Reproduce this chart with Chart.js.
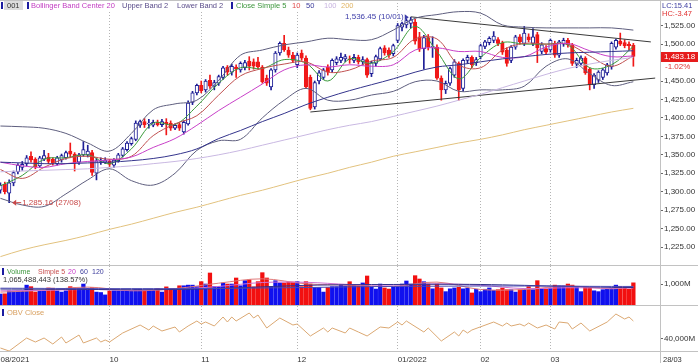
<!DOCTYPE html>
<html>
<head>
<meta charset="utf-8">
<script src="https://cdn.jsdelivr.net/npm/chart.js@4.4.1/dist/chart.umd.min.js"></script>
<style>
html,body{margin:0;padding:0;background:#fff;}
#wrap{position:relative;width:698px;height:363px;overflow:hidden;background:#fff;font-family:"Liberation Sans",Arial,sans-serif;}
#wrap canvas{position:absolute;left:0;}
.t{position:absolute;font-size:7.5px;line-height:9px;white-space:nowrap;}
.s{font-size:7px;}
.mk{position:absolute;width:2px;height:7px;background:#1c1ca0;}
</style>
</head>
<body>
<div id="wrap">
 <canvas id="cMain" width="698" height="266" style="top:0;width:698px;height:266px"></canvas>
 <canvas id="cVol" width="698" height="40" style="top:266px;width:698px;height:40px"></canvas>
 <canvas id="cObv" width="698" height="57" style="top:306px;width:698px;height:57px"></canvas>

 <div style="position:absolute;left:0;top:1px;width:352px;height:10px;background:#fff"></div>
 <div class="mk" style="left:1px;top:2px"></div>
 <div class="t" style="left:4px;top:1px;padding:0 3px;background:#dcdcdc;color:#333">001</div>
 <div class="mk" style="left:27px;top:2px"></div>
 <div class="t" style="left:31px;top:1px;color:#c23cc2">Bollinger Band Center 20</div>
 <div class="t" style="left:122px;top:1px;color:#5a4c8a">Upper Band 2</div>
 <div class="t" style="left:177px;top:1px;color:#5a4c8a">Lower Band 2</div>
 <div class="mk" style="left:231px;top:2px"></div>
 <div class="t" style="left:236px;top:1px;color:#3c963c">Close Simple 5</div>
 <div class="t" style="left:292px;top:1px;color:#e04848">10</div>
 <div class="t" style="left:306px;top:1px;color:#3c3c9c">50</div>
 <div class="t" style="left:324px;top:1px;color:#c8b4e0">100</div>
 <div class="t" style="left:341px;top:1px;color:#e0b464">200</div>

 <div class="t" style="left:662px;top:1px;color:#3c3ca0">LC:15.41</div>
 <div class="t" style="left:662px;top:9px;color:#e03030">HC:-3.47</div>

 <div class="mk" style="left:2px;top:268px"></div>
 <div class="t s" style="left:7px;top:267px;color:#3c963c">Volume</div>
 <div class="t s" style="left:38px;top:267px;color:#c85050">Simple 5</div>
 <div class="t s" style="left:68px;top:267px;color:#c83cc8">20</div>
 <div class="t s" style="left:80px;top:267px;color:#3c3c9c">60</div>
 <div class="t s" style="left:92px;top:267px;color:#3c3c9c">120</div>
 <div class="t" style="left:3px;top:275px;color:#333">1,065,488,443 (138.57%)</div>

 <div class="mk" style="left:2px;top:309px"></div>
 <div class="t" style="left:7px;top:308px;color:#d8a060">OBV Close</div>
 <div class="t" style="left:663px;top:355px;color:#333">28/03</div>
</div>
<script>
// ---------------- data ----------------
const openP=[1302,1310,1298,1312,1327,1333,1338,1348,1344,1335,
 1344,1347,1344,1338,1343,1346,1355,1351,1340,1350,
 1350,1353,1325,1341,1340,1341,1336,1342,1349,1357,
 1365,1371,1390,1395,1392,1390,1394,1391,1394,1393,
 1386,1391,1381,1392,1421,1434,1444,1438,1451,1443,
 1447,1455,1469,1462,1469,1465,1468,1477,1476,1476,
 1469,1454,1442,1465,1488,1501,1492,1485,1472,1488,
 1481,1455,1415,1450,1455,1469,1465,1475,1478,1480,
 1480,1478,1482,1476,1479,1460,1474,1480,1495,1492,
 1487,1505,1523,1526,1528,1530,1510,1494,1509,1496,
 1496,1454,1438,1447,1458,1474,1440,1478,1482,1475,
 1483,1497,1502,1505,1506,1501,1492,1478,1496,1510,
 1501,1510,1501,1513,1490,1494,1492,1501,1485,1500,
 1505,1499,1473,1474,1481,1466,1445,1451,1455,1461,
 1469,1496,1504,1502,1500,1498.5];
const highP=[1312,1313,1316,1328,1338,1341,1349,1354,1346,1348,
 1356,1352,1346,1348,1351,1355,1366,1353,1352,1368,
 1363,1356,1345,1346,1346,1344,1345,1352,1360,1368,
 1374,1396,1397,1399,1398,1397,1397,1398,1399,1396,
 1392,1393,1396,1423,1436,1446,1450,1452,1458,1451,
 1458,1470,1471,1473,1472,1476,1478,1483,1480,1482,
 1471,1458,1467,1490,1503,1512,1496,1489,1488,1492,
 1484,1458,1450,1464,1467,1472,1480,1483,1488,1486,
 1484,1486,1485,1483,1481,1477,1485,1496,1498,1495,
 1500,1528,1530,1534,1536.45,1534,1516,1512,1513,1510,
 1499,1457,1450,1469,1479,1476,1480,1485,1484,1482,
 1500,1505,1510,1517,1509,1504,1495,1498,1512,1513,
 1524,1514,1521,1516,1502,1498,1507,1504,1505,1508,
 1508,1501,1481,1484,1483,1468,1460,1464,1467,1474,
 1503,1507,1515,1506,1503,1501];
const lowP=[1298,1297,1285.16,1308,1324,1329,1335,1340,1331,1333,
 1342,1338,1336,1336,1340,1344,1346,1328,1337,1348,
 1347,1322,1316,1337,1338,1334,1333,1340,1347,1355,
 1363,1369,1387,1387,1386,1388,1389,1388,1377,1383,
 1384,1383,1378,1390,1418,1431,1434,1435,1440,1438,
 1444,1452,1458,1458,1455,1462,1465,1465,1466,1467,
 1447,1444,1438,1462,1485,1490,1482,1475,1468,1478,
 1440,1411,1412,1446,1452,1458,1462,1472,1475,1476,
 1474,1475,1473,1472,1455,1456,1470,1478,1485,1482,
 1484,1502,1518,1522,1522,1500,1490,1466,1492,1482,
 1452,1424,1433,1444,1455,1424,1436,1474,1468,1471,
 1480,1494,1499,1502,1498,1486,1470,1475,1493,1500,
 1498,1503,1498,1475,1487,1486,1489,1482,1482,1497,
 1496,1471,1468,1471,1459,1438,1440,1448,1452,1458,
 1466,1493,1498,1495,1492,1470];
const closeP=[1309,1300,1312,1326,1336,1337,1346,1343,1334,1346,
 1349,1341,1339,1346,1349,1353,1351,1339,1350,1357,
 1355,1326,1342,1343,1343,1337,1343,1350,1358,1366,
 1372,1393,1395,1391,1393,1394,1391,1395,1392,1386,
 1390,1386,1394,1420,1434,1444,1437,1450,1443,1448,
 1456,1468,1462,1470,1466,1474,1475,1470,1470,1469,
 1449,1447,1465,1488,1501,1492,1485,1478,1485,1481,
 1442,1413,1448,1461,1465,1462,1478,1480,1482,1483,
 1479,1482,1476,1479,1458,1475,1483,1494,1488,1485,
 1498,1525,1528,1532,1533,1504,1493,1509,1496,1497,
 1454,1438,1447,1467,1476,1438,1478,1482,1472,1479,
 1498,1503,1508,1511,1501,1489,1474,1496,1510,1503,
 1515,1506,1510,1495,1499,1489,1505,1485,1503,1505,
 1499,1474,1478,1481,1461,1445,1458,1462,1465,1472,
 1501,1505,1500,1498,1498,1483.18];
// volume, millions of shares
const volume=[550,560,700,690,710,700,960,890,640,700,
 700,830,820,700,640,700,890,840,820,1010,
 820,850,640,620,510,690,700,700,690,700,
 710,760,770,720,730,720,800,640,880,790,
 800,930,930,960,960,890,1120,1010,1518,900,
 890,1057,1010,1010,1288,930,1165,1210,880,1120,
 1533,1288,880,1165,1060,1060,1100,1100,1120,890,
 1120,1010,850,850,640,850,890,890,960,920,
 1118,960,920,1060,1380,890,780,1010,830,780,
 890,890,1010,1150,1010,1395,1242,1118,1010,790,
 1010,830,660,790,830,860,790,830,600,770,
 660,770,830,720,750,830,750,750,640,750,
 780,890,750,1165,780,780,830,960,930,930,
 1010,960,890,660,890,860,700,660,750,780,
 830,960,890,830,780,1065.49];

// indicator lines, sampled every 5 sessions
const maIdx=[0,5,10,15,20,25,30,35,40,45,50,55,60,65,70,75,80,85,90,95,100,105,110,115,120,125,130,135,140,145];
const sma5=[1308,1322,1344,1346,1350,1338,1358,1393,1391,1416,1447,1468,1467,1479,1474,1450,1480,1474,1490,1524,1490,1453,1482,1502,1500,1500,1499,1468,1472,1497];
const sma10=[1330,1318,1333,1345,1348,1344,1348,1376,1392,1403,1431,1457,1467,1473,1476,1462,1465,1477,1482,1507,1507,1472,1468,1492,1501,1500,1500,1484,1470,1484];
const bbCenter=[1340,1335,1333,1338,1341,1343,1347,1360,1372,1390,1410,1428,1446,1465,1472,1469,1472,1470,1472,1492,1495,1490,1490,1482,1483,1496,1501,1491,1483,1484];
const bbUpper=[1389,1388,1386,1379,1366,1355,1379,1411,1419,1424,1451,1485,1492,1499,1503,1508,1506,1506,1519,1535,1540,1544,1542,1526,1523,1522,1522,1522,1522,1519];
const bbLower=[1291,1282,1280,1297,1316,1331,1315,1309,1325,1356,1369,1371,1400,1424,1440,1424,1424,1431,1436,1449,1450,1436,1438,1438,1443,1470,1480,1460,1444,1449];
const sma50=[1340,1339,1338,1338,1339,1340,1342,1345,1350,1358,1372,1383,1395,1406,1418,1428,1437,1445,1453,1462,1469,1472,1476,1480,1483,1486,1488,1489,1490,1491];
const sma100=[1327,1328,1329,1330,1331,1333,1335,1338,1341,1345,1350,1356,1363,1370,1377,1384,1390,1395,1402,1409,1416,1424,1432,1441,1450,1459,1467,1473,1478,1482];
const sma200=[1212,1221,1228,1234,1241,1249,1256,1264,1272,1279,1287,1295,1302,1310,1318,1325,1333,1340,1348,1354,1360,1366,1371,1377,1384,1390,1396,1402,1408,1413];

// trend lines (session index, price)
const trendUpIdx=[94,149], trendUpVal=[1537,1503];
const trendLowIdx=[71,150], trendLowVal=[1408,1454];

// volume moving averages (millions), sampled every 10 sessions
const volMaIdx=[0,10,20,30,40,50,60,70,80,90,100,110,120,130,140,145];
const volMa5=[640,720,870,700,800,1050,1250,1020,960,900,1100,760,760,920,790,900];
const volMa20=[700,720,760,730,770,900,1080,1090,990,960,1020,950,800,840,820,830];
const volMa60=[780,770,760,750,760,800,880,950,980,990,1000,990,950,900,860,850];
const volMa120=[820,810,800,800,800,810,830,850,880,900,910,920,920,910,900,900];

// OBV (millions), turning points
const obvIdx=[0,2,6,8,10,12,14,15,18,19,22,23,24,25,28,32,34,35,37,40,41,43,45,46,47,49,51,52,53,54,57,58,59,61,64,67,68,71,74,75,76,79,80,82,84,87,89,91,92,93,97,98,101,103,104,105,106,107,108,113,115,116,117,119,120,121,123,125,127,128,130,131,133,135,139,141,143,144,145];
const obvVal=[37090,36190,40090,38890,40090,38290,40390,38590,40990,38590,40090,38890,39490,38890,41590,43990,42490,43690,42190,43390,41890,43690,45190,44290,44890,43690,46390,44890,46390,45190,47590,46090,46990,43090,46090,43990,44290,40690,43090,41890,43090,41590,43090,41890,40690,43390,43090,44890,43990,45190,41890,43090,39190,40990,41890,40690,42490,41590,42490,44890,43690,44590,43690,44290,43690,44590,43090,43990,42790,44890,44590,42790,44590,42190,44890,47290,45790,46390,45190];

// axis ticks / labels
const monthTickIdx=[0,25,46,68,91,110,126];
const monthTickLabels=['08/2021','10','11','12','01/2022','02','03'];
const priceTicks=[1225,1250,1275,1300,1325,1350,1375,1400,1425,1450,1500,1525];
const volTicks=[1000], obvTicks=[40000];
const peakDate='10/01', lowDate='27/08', changePct='-1.02%';

// ---------------- helpers ----------------
const FONT="'Liberation Sans', Arial, sans-serif";
const pts=(idx,vals)=>idx.map((x,k)=>({x:x,y:vals[k]}));
const fmt2=v=>v.toLocaleString('en-US',{minimumFractionDigits:2,maximumFractionDigits:2});
const fmtM=v=>v.toLocaleString('en-US')+'M';
const isUp=i=>closeP[i]>=openP[i];
const UP='#1e1e96', DN='#f01818';
const XMIN=-0.1, XMAX=151.1;

function xAxis(showLabels){
  return {type:'linear',min:XMIN,max:XMAX,bounds:'data',offset:false,
    afterBuildTicks(s){ s.ticks=monthTickIdx.map(v=>({value:v})); },
    afterFit(s){ s.height=showLabels?11:0; s.paddingLeft=0; s.paddingRight=0; },
    grid:{display:true,offset:false,drawOnChartArea:true,drawTicks:false,lineWidth:1,
      color:c=>(c.tick&&c.tick.value===0)?'rgba(0,0,0,0)':'#b4b4b4'},
    border:{display:false,dash:[1,2]},
    ticks:{display:showLabels,autoSkip:false,maxRotation:0,align:'start',padding:3,color:'#333',
      font:{family:FONT,size:8},callback:(v,i)=>monthTickLabels[i]}
  };
}
function yAxis(min,max,ticks,fmt){
  return {position:'right',min:min,max:max,bounds:'data',
    afterBuildTicks(s){ s.ticks=ticks.map(v=>({value:v})); },
    afterFit(s){ s.width=38; s.paddingTop=0; s.paddingBottom=0; },
    grid:{drawOnChartArea:false,drawTicks:true,tickLength:3,tickColor:'#666',lineWidth:1},
    border:{display:false},
    ticks:{autoSkip:false,padding:1,color:'#333',font:{family:FONT,size:8},callback:v=>fmt(v)}
  };
}
function frame(opt){
  return {id:'frame',afterDraw(chart){
    const {ctx,chartArea:a,width,height}=chart;
    ctx.save(); ctx.strokeStyle='#c2c2c2'; ctx.lineWidth=1; ctx.beginPath();
    if(opt.top){ ctx.moveTo(0,0.5); ctx.lineTo(width,0.5); }
    ctx.moveTo(0,a.bottom-0.5); ctx.lineTo(width,a.bottom-0.5);
    const xr=Math.round(a.right)+0.5;
    ctx.moveTo(xr,0); ctx.lineTo(xr,opt.full?height:a.bottom);
    ctx.stroke(); ctx.restore();
  }};
}
function line(data,color,order,tension){
  return {type:'line',data:data,borderColor:color,borderWidth:1,pointRadius:0,fill:false,
    tension:tension===undefined?0.35:tension,order:order};
}
const common={responsive:false,animation:false,events:[],layout:{padding:0},
  plugins:{legend:{display:false},tooltip:{enabled:false}}};

// ---------------- main price panel ----------------
const annot={id:'annot',afterDraw(chart){
  const {ctx,scales:{x,y}}=chart;
  ctx.save();
  ctx.font='8px '+FONT; ctx.textBaseline='middle';
  let pi=0; highP.forEach((h,i)=>{ if(h>highP[pi]) pi=i; });
  const px=x.getPixelForValue(pi), py=y.getPixelForValue(highP[pi]);
  ctx.fillStyle='#3c3ca8'; ctx.textAlign='right';
  ctx.fillText(fmt2(highP[pi])+' ('+peakDate+')',px-7,py);
  ctx.beginPath(); ctx.moveTo(px-2,py); ctx.lineTo(px-6,py-3); ctx.lineTo(px-6,py+3); ctx.closePath(); ctx.fill();
  let li=0; lowP.forEach((l,i)=>{ if(l<lowP[li]) li=i; });
  const lx=x.getPixelForValue(li), ly=y.getPixelForValue(lowP[li]);
  ctx.fillStyle='#c84848'; ctx.textAlign='left';
  ctx.fillText(fmt2(lowP[li])+' ('+lowDate+')',lx+13,ly);
  ctx.beginPath(); ctx.moveTo(lx+3,ly); ctx.lineTo(lx+7,ly-3); ctx.lineTo(lx+7,ly+3); ctx.closePath(); ctx.fill();
  ctx.fillRect(lx+7,ly-0.5,5,1);
  const last=closeP[closeP.length-1], cy=Math.round(y.getPixelForValue(last));
  ctx.fillStyle='#e61c1c'; ctx.fillRect(661,cy-5,37,10);
  ctx.fillStyle='#fff'; ctx.fillText(fmt2(last),664,cy);
  ctx.fillStyle='#e03030'; ctx.fillText(changePct,665,cy+10);
  ctx.restore();
}};

new Chart(document.getElementById('cMain'),{
  type:'bar',
  data:{datasets:[
    line(pts(maIdx,sma200),'#e2c27e',0),
    line(pts(maIdx,sma100),'#c9b8e2',0),
    line(pts(maIdx,sma50),'#34348c',0),
    line(pts(maIdx,bbUpper),'#5e5e7e',0),
    line(pts(maIdx,bbLower),'#5e5e7e',0),
    line(pts(maIdx,bbCenter),'#c840c8',0),
    line(pts(maIdx,sma10),'#c05050',0),
    line(pts(maIdx,sma5),'#3a9a3a',0),
    line(pts(trendUpIdx,trendUpVal),'#3a3a3a',0,0),
    line(pts(trendLowIdx,trendLowVal),'#3a3a3a',0,0),
    {type:'bar',data:highP.map((h,i)=>({x:i,y:[lowP[i],h]})),
      backgroundColor:c=>isUp(c.dataIndex)?UP:DN,borderWidth:0,barThickness:1,grouped:false,order:3},
    {type:'bar',data:openP.map((o,i)=>({x:i,y:[o,closeP[i]]})),
      backgroundColor:c=>isUp(c.dataIndex)?'#ffffff':DN,
      borderColor:c=>isUp(c.dataIndex)?UP:DN,borderWidth:1,borderSkipped:false,
      barThickness:3.5,grouped:false,order:2}
  ]},
  options:Object.assign({},common,{
    scales:{x:xAxis(false),y:yAxis(1199.3,1559.8,priceTicks,fmt2)}
  }),
  plugins:[frame({top:true}),annot]
});

// ---------------- volume panel ----------------
new Chart(document.getElementById('cVol'),{
  type:'bar',
  data:{datasets:[
    line(pts(volMaIdx,volMa120),'#4a4ab4',0),
    line(pts(volMaIdx,volMa60),'#30308a',0),
    line(pts(volMaIdx,volMa20),'#d070d0',0),
    line(pts(volMaIdx,volMa5),'#e07a7a',0),
    {type:'bar',data:volume.map((v,i)=>({x:i,y:v})),
      backgroundColor:c=>isUp(c.dataIndex)?'#1010ee':'#f21010',borderWidth:0,
      barThickness:3.6,grouped:false,order:4}
  ]},
  options:Object.assign({},common,{
    scales:{x:xAxis(false),y:yAxis(0,1840,volTicks,fmtM)}
  }),
  plugins:[frame({})]
});

// ---------------- OBV panel ----------------
new Chart(document.getElementById('cObv'),{
  type:'line',
  data:{datasets:[ line(pts(obvIdx,obvVal),'#dba872',0,0) ]},
  options:Object.assign({},common,{
    scales:{x:xAxis(true),y:yAxis(35890,49690,obvTicks,fmtM)}
  }),
  plugins:[frame({full:true})]
});
</script>
</body>
</html>
